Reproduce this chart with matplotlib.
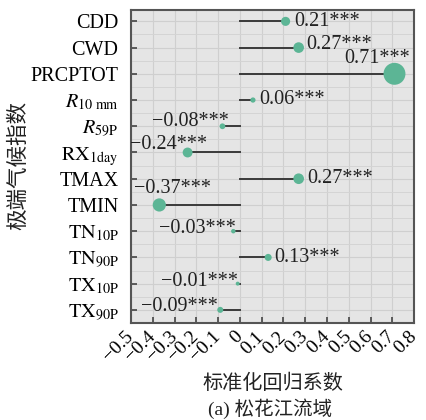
import matplotlib
matplotlib.use("Agg")
import matplotlib.pyplot as plt
from matplotlib.ticker import MultipleLocator
from matplotlib.transforms import ScaledTranslation
import numpy as np

plt.rcParams['font.family'] = ['Liberation Serif', 'Noto Sans CJK SC']
plt.rcParams['mathtext.fontset'] = 'stix'
plt.rcParams['axes.unicode_minus'] = True

# Indices (top to bottom) and their standardised regression coefficients
indices = ['CDD', 'CWD', 'PRCPTOT', r'$\mathit{R}_{\mathrm{10\ mm}}$', r'$\mathit{R}_{\mathrm{59P}}$',
           r'$\mathrm{RX}_{\mathrm{1day}}$', 'TMAX', 'TMIN', r'$\mathrm{TN}_{\mathrm{10P}}$',
           r'$\mathrm{TN}_{\mathrm{90P}}$', r'$\mathrm{TX}_{\mathrm{10P}}$', r'$\mathrm{TX}_{\mathrm{90P}}$']
coefs = [0.21, 0.27, 0.71, 0.06, -0.08, -0.24, 0.27, -0.37, -0.03, 0.13, -0.01, -0.09]
signif = ['***'] * 12

# Label offsets in pixels relative to each marker
label_offsets = [(9, 0), (8, 3), (-17, 15), (6, 1), (6, 5), (20, 8),
                 (9, 0), (52, 16), (3, 3), (6, 0), (0, 2), (-2, 3)]

green = '#5cb595'
FS = 14.5
fig = plt.figure(figsize=(4.26, 4.20), dpi=100)
ax = fig.add_axes([0.3075, 0.231, 0.6645, 0.745])
ax.set_facecolor('#e5e5e5')

y = np.arange(len(indices))
for i, v in enumerate(coefs):
    ax.plot([0, v], [i, i], color='#3a3a3a', lw=1.4, zorder=2)
diam_px = 3.7 + 25.7 * np.abs(coefs)
sizes = (diam_px * 0.72) ** 2
ax.scatter(coefs, y, s=sizes, color=green, zorder=3, edgecolors='none')

for i, v in enumerate(coefs):
    dx, dy = label_offsets[i]
    if i == 2:
        ha = 'center'
    elif v >= 0:
        ha = 'left'
    else:
        ha = 'right'
    ax.annotate(f"{v:.2f}".replace('-', '\u2212') + signif[i], xy=(v, i),
                xytext=(dx, dy), textcoords='offset pixels', ha=ha, va='center',
                fontsize=FS, color='#222222', zorder=4)

ax.set_xlim(-0.5, 0.8)
ax.set_ylim(11.5, -0.43)
xt = np.round(np.arange(-0.5, 0.81, 0.1), 1)
ax.set_xticks(xt)
ax.set_xticklabels(['0' if t == 0 else f"{t:g}".replace('-', '\u2212') for t in xt],
                   rotation=45, ha='right', va='center', rotation_mode='anchor', fontsize=FS - 0.5)
shift = ScaledTranslation(6 / 100, 0, fig.dpi_scale_trans)
for lab in ax.get_xticklabels():
    lab.set_transform(lab.get_transform() + shift)
ax.set_yticks(y)
ax.set_yticklabels(indices, fontsize=FS)
ax.yaxis.set_minor_locator(MultipleLocator(0.5))
ax.tick_params(which='major', direction='in', length=4, width=1.2, color='#444444')
ax.tick_params(axis='y', which='major', pad=9)
ax.tick_params(axis='x', which='major', pad=8)
ax.tick_params(which='minor', length=0)
ax.grid(which='major', color='#cfcfcf', lw=0.8, zorder=0)
ax.grid(which='minor', axis='y', color='#d4d4d4', lw=0.7, zorder=0)
ax.set_axisbelow(True)
for s in ax.spines.values():
    s.set_color('#555555')
    s.set_linewidth(1.5)

fig.text(18 / 426, 0.605, '极端气候指数', rotation=90, ha='center', va='center',
         fontsize=15.5, family=['Noto Sans CJK SC'], color='#222222')
fig.text(0.64, 0.088, '标准化回归系数', ha='center', va='center', fontsize=14.5,
         family=['Noto Sans CJK SC'], color='#222222')
fig.text(0.635, 0.027, '(a) 松花江流域', ha='center', va='center', fontsize=14,
         color='#222222')

fig.savefig('out.png', dpi=100)
